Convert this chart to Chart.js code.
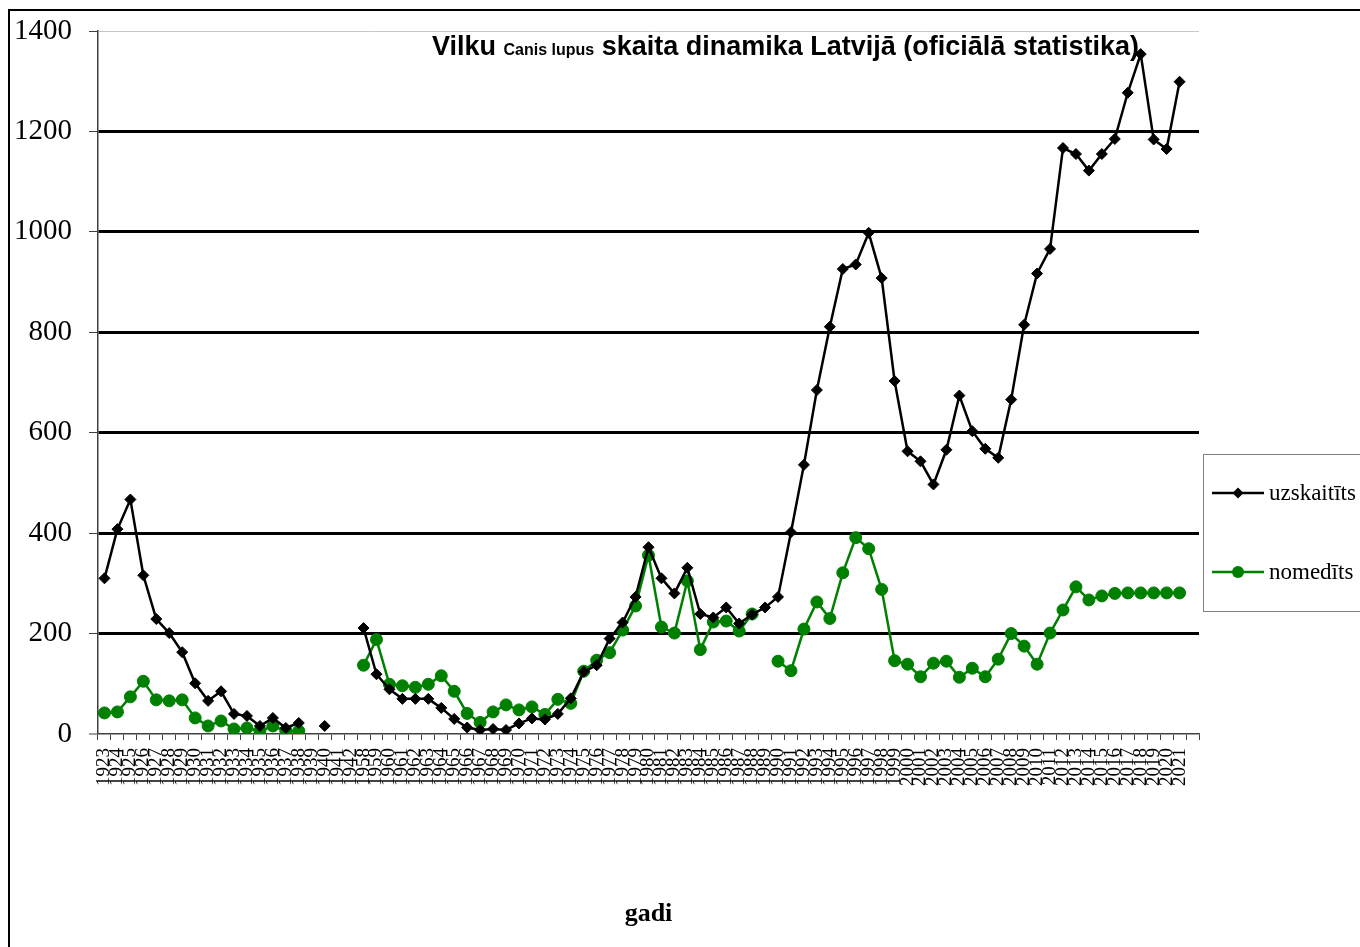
<!DOCTYPE html>
<html>
<head>
<meta charset="utf-8">
<title>Vilku skaita dinamika Latvijā</title>
<script src="https://cdn.jsdelivr.net/npm/chart.js@4.4.0/dist/chart.umd.min.js"></script>
<style>
  html, body { margin: 0; padding: 0; background: #fff; }
  #wrap { position: relative; width: 1360px; height: 947px; }
</style>
</head>
<body>
<div id="wrap"><canvas id="chartCanvas"></canvas></div>
<script>
// years (the war / post-war gap 1943-1957 is missing in the source), last slot is empty
const gadi = [
  '1923','1924','1925','1926','1927','1928','1929','1930','1931','1932',
  '1933','1934','1935','1936','1937','1938','1939','1940','1941','1942',
  '1958','1959','1960','1961','1962','1963','1964','1965','1966','1967',
  '1968','1969','1970','1971','1972','1973','1974','1975','1976','1977',
  '1978','1979','1980','1981','1982','1983','1984','1985','1986','1987',
  '1988','1989','1990','1991','1992','1993','1994','1995','1996','1997',
  '1998','1999','2000','2001','2002','2003','2004','2005','2006','2007',
  '2008','2009','2010','2011','2012','2013','2014','2015','2016','2017',
  '2018','2019','2020','2021',''
];

// counted wolves
const uzskaititi = [
  310, 408, 467, 316, 229, 201, 163, 101, 66, 85,
  40, 36, 16, 32, 12, 22, null, 16, null, null,
  211, 119, 89, 70, 70, 70, 52, 30, 13, 8,
  10, 8, 21, 31, 29, 40, 71, 124, 137, 190,
  222, 273, 372, 310, 280, 331, 239, 232, 252, 220,
  238, 252, 273, 402, 536, 685, 811, 926, 935, 998,
  908, 703, 563, 543, 497, 566, 674, 603, 568, 550,
  666, 815, 917, 966, 1167, 1155, 1122, 1155, 1185, 1277,
  1354, 1184, 1165, 1299, null
];

// hunted wolves
const nomediti = [
  42, 44, 74, 105, 68, 66, 68, 32, 16, 26,
  10, 12, 6, 16, 6, 6, null, null, null, null,
  137, 188, 99, 96, 93, 99, 116, 85, 41, 23,
  44, 58, 48, 54, 39, 69, 61, 125, 147, 162,
  207, 255, 356, 213, 201, 305, 168, 223, 225, 205,
  239, null, 145, 126, 209, 263, 230, 321, 391, 369,
  288, 146, 139, 114, 141, 145, 113, 131, 114, 149,
  200, 175, 139, 201, 247, 293, 267, 275, 280, 281,
  281, 281, 281, 281, null
];

const yTicks = [0, 200, 400, 600, 800, 1000, 1200, 1400];

const serif = "'Liberation Serif', 'Times New Roman', serif";
const sans = "'Liberation Sans', Arial, sans-serif";

// outer frame + title with the small latin name
const framePlugin = {
  id: 'frame',
  beforeDraw(chart) {
    const ctx = chart.ctx;
    ctx.save();
    ctx.fillStyle = '#fff';
    ctx.fillRect(0, 0, chart.width, chart.height);
    ctx.strokeStyle = '#000';
    ctx.lineWidth = 2;
    ctx.strokeRect(9, 10, chart.width + 20, chart.height + 20);
    ctx.restore();
  },
  beforeDatasetsDraw(chart) {
    const ctx = chart.ctx;
    const parts = [
      { t: 'Vilku ', f: 'bold 27px ' + sans },
      { t: 'Canis lupus', f: 'bold 16px ' + sans },
      { t: ' skaita dinamika Latvijā (oficiālā statistika)', f: 'bold 27px ' + sans }
    ];
    ctx.save();
    ctx.fillStyle = '#000';
    ctx.textBaseline = 'alphabetic';
    let x = 432;
    parts.forEach(p => {
      ctx.font = p.f;
      ctx.fillText(p.t, x, 55);
      x += ctx.measureText(p.t).width;
    });
    ctx.restore();
  }
};

// boxed legend at the right, partly cut by the picture edge
const legendPlugin = {
  id: 'boxLegend',
  afterDraw(chart) {
    const ctx = chart.ctx;
    ctx.save();
    ctx.strokeStyle = '#808080';
    ctx.lineWidth = 1;
    ctx.strokeRect(1203.5, 454.5, 300, 157);
    const rows = [493, 572];
    chart.data.datasets.forEach((ds, i) => {
      const y = rows[i];
      ctx.strokeStyle = ds.borderColor;
      ctx.lineWidth = 2.5;
      ctx.beginPath();
      ctx.moveTo(1212, y);
      ctx.lineTo(1264, y);
      ctx.stroke();
      ctx.fillStyle = ds.borderColor;
      ctx.beginPath();
      if (ds.pointStyle === 'rectRot') {
        const r = 5.5;
        ctx.moveTo(1238, y - r);
        ctx.lineTo(1238 + r, y);
        ctx.lineTo(1238, y + r);
        ctx.lineTo(1238 - r, y);
        ctx.closePath();
      } else {
        ctx.arc(1238, y, 6, 0, Math.PI * 2);
      }
      ctx.fill();
      ctx.fillStyle = '#000';
      ctx.font = '23px ' + serif;
      ctx.textBaseline = 'middle';
      ctx.fillText(ds.label, 1269, y + 1);
    });
    ctx.restore();
  }
};

const ctx = document.getElementById('chartCanvas').getContext('2d');

new Chart(ctx, {
  type: 'line',
  data: {
    labels: gadi,
    datasets: [
      {
        label: 'uzskaitīts',
        data: uzskaititi,
        borderColor: '#000000',
        backgroundColor: '#000000',
        borderWidth: 2.5,
        pointStyle: 'rectRot',
        pointRadius: 5.5,
        pointBorderWidth: 1,
        spanGaps: false,
        tension: 0
      },
      {
        label: 'nomedīts',
        data: nomediti,
        borderColor: '#008000',
        backgroundColor: '#008000',
        borderWidth: 2.5,
        pointStyle: 'circle',
        pointRadius: 6,
        pointBorderWidth: 1,
        spanGaps: false,
        tension: 0
      }
    ]
  },
  options: {
    responsive: true,
    maintainAspectRatio: false,
    animation: false,
    layout: {
      padding: { left: 0, right: 161, top: 31, bottom: 0 }
    },
    scales: {
      x: {
        type: 'category',
        offset: true,
        afterFit: (scale) => { scale.height = 947 - 734; },
        border: { display: true, color: '#404040', width: 1.5 },
        grid: {
          display: true,
          offset: true,
          drawOnChartArea: false,
          drawTicks: true,
          tickLength: 6,
          color: '#404040',
          tickWidth: 1
        },
        ticks: {
          autoSkip: false,
          minRotation: 90,
          maxRotation: 90,
          padding: 8,
          color: '#000',
          font: { family: serif, size: 19 }
        },
        title: {
          display: true,
          text: 'gadi',
          color: '#000',
          font: { family: serif, size: 26, weight: 'bold' },
          padding: { top: 0, bottom: 17 }
        }
      },
      y: {
        min: 0,
        max: 1400,
        afterFit: (scale) => {
          scale.width = 98;
          scale.paddingTop = 0;
          scale.paddingBottom = 0;
        },
        afterBuildTicks: (scale) => {
          scale.ticks = yTicks.map(v => ({ value: v }));
        },
        border: { display: true, color: '#404040', width: 1.5 },
        grid: {
          color: (c) => c.tick && c.tick.value === 1400 ? '#c8c8c8' : '#000',
          lineWidth: (c) => {
            if (!c.tick) return 3;
            if (c.tick.value === 0) return 0;
            return c.tick.value === 1400 ? 1 : 3;
          },
          drawTicks: true,
          tickLength: 9,
          tickColor: '#404040',
          tickWidth: 1
        },
        ticks: {
          padding: 17,
          color: '#000',
          font: { family: serif, size: 29 },
          callback: (v) => String(v)
        }
      }
    },
    plugins: {
      legend: { display: false },
      title: { display: false },
      tooltip: { enabled: false }
    }
  },
  plugins: [framePlugin, legendPlugin]
});
</script>
</body>
</html>
